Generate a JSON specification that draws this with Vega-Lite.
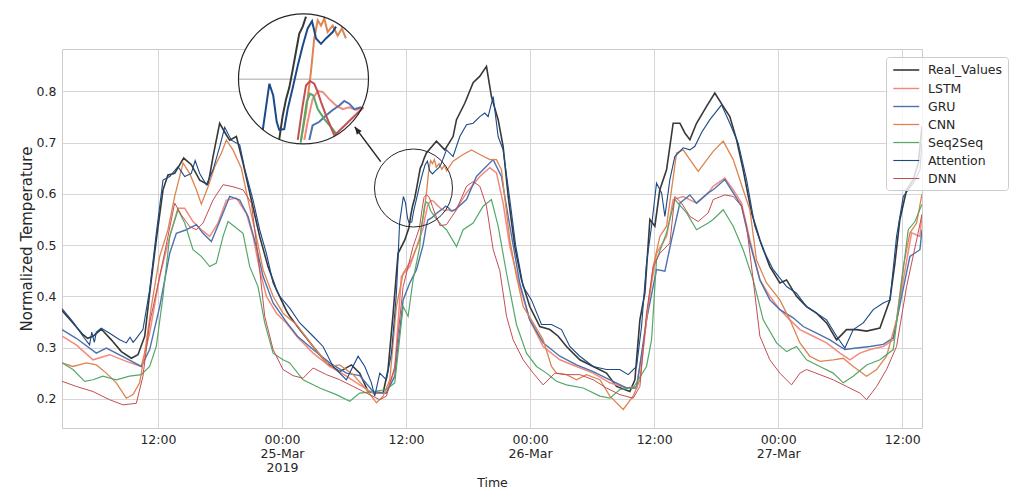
{
  "$schema": "https://vega.github.io/schema/vega-lite/v6.json",
  "width": 860,
  "height": 379,
  "autosize": {"type": "none"},
  "padding": {"left": 62, "top": 49, "right": 94, "bottom": 61},
  "background": "white",
  "config": {
    "font": "DejaVu Sans",
    "view": {"stroke": "#cccccc", "strokeWidth": 1},
    "axis": {"domain": false, "ticks": false, "grid": true, "gridColor": "#d6d6d6", "gridWidth": 1, "labelColor": "#262626", "titleColor": "#262626", "labelFontSize": 12.5, "titleFontWeight": "normal"}
  },
  "datasets": {
    "series": [
      {"t":2.72,"model":"Real_Values","value":0.372},{"t":3.78,"model":"Real_Values","value":0.348},{"t":4.75,"model":"Real_Values","value":0.325},{"t":5.2,"model":"Real_Values","value":0.318},{"t":5.72,"model":"Real_Values","value":0.322},{"t":6.52,"model":"Real_Values","value":0.336},{"t":7.49,"model":"Real_Values","value":0.315},{"t":8.46,"model":"Real_Values","value":0.292},{"t":9.43,"model":"Real_Values","value":0.279},{"t":10.07,"model":"Real_Values","value":0.286},{"t":10.72,"model":"Real_Values","value":0.322},{"t":11.2,"model":"Real_Values","value":0.406},{"t":11.84,"model":"Real_Values","value":0.51},{"t":12.49,"model":"Real_Values","value":0.608},{"t":12.97,"model":"Real_Values","value":0.637},{"t":13.62,"model":"Real_Values","value":0.64},{"t":14.49,"model":"Real_Values","value":0.67},{"t":15.23,"model":"Real_Values","value":0.657},{"t":16.04,"model":"Real_Values","value":0.627},{"t":16.85,"model":"Real_Values","value":0.618},{"t":17.33,"model":"Real_Values","value":0.673},{"t":17.97,"model":"Real_Values","value":0.738},{"t":18.62,"model":"Real_Values","value":0.715},{"t":18.94,"model":"Real_Values","value":0.705},{"t":19.59,"model":"Real_Values","value":0.712},{"t":20.23,"model":"Real_Values","value":0.66},{"t":21.04,"model":"Real_Values","value":0.588},{"t":21.84,"model":"Real_Values","value":0.517},{"t":22.65,"model":"Real_Values","value":0.458},{"t":23.46,"model":"Real_Values","value":0.413},{"t":24.42,"model":"Real_Values","value":0.372},{"t":24.75,"model":"Real_Values","value":0.361},{"t":25.72,"model":"Real_Values","value":0.335},{"t":27.01,"model":"Real_Values","value":0.302},{"t":28.3,"model":"Real_Values","value":0.27},{"t":29.59,"model":"Real_Values","value":0.253},{"t":30.72,"model":"Real_Values","value":0.266},{"t":31.52,"model":"Real_Values","value":0.25},{"t":32.33,"model":"Real_Values","value":0.214},{"t":33.14,"model":"Real_Values","value":0.211},{"t":33.78,"model":"Real_Values","value":0.211},{"t":34.26,"model":"Real_Values","value":0.257},{"t":34.75,"model":"Real_Values","value":0.367},{"t":35.23,"model":"Real_Values","value":0.484},{"t":35.88,"model":"Real_Values","value":0.51},{"t":36.28,"model":"Real_Values","value":0.534},{"t":36.47,"model":"Real_Values","value":0.56},{"t":36.65,"model":"Real_Values","value":0.578},{"t":36.83,"model":"Real_Values","value":0.591},{"t":37.01,"model":"Real_Values","value":0.61},{"t":37.19,"model":"Real_Values","value":0.63},{"t":37.37,"model":"Real_Values","value":0.65},{"t":37.56,"model":"Real_Values","value":0.658},{"t":37.74,"model":"Real_Values","value":0.669},{"t":37.97,"model":"Real_Values","value":0.68},{"t":38.94,"model":"Real_Values","value":0.703},{"t":39.75,"model":"Real_Values","value":0.686},{"t":40.55,"model":"Real_Values","value":0.712},{"t":40.88,"model":"Real_Values","value":0.745},{"t":41.68,"model":"Real_Values","value":0.777},{"t":42.49,"model":"Real_Values","value":0.817},{"t":43.14,"model":"Real_Values","value":0.83},{"t":43.78,"model":"Real_Values","value":0.849},{"t":44.26,"model":"Real_Values","value":0.79},{"t":44.91,"model":"Real_Values","value":0.745},{"t":45.39,"model":"Real_Values","value":0.693},{"t":45.88,"model":"Real_Values","value":0.595},{"t":46.52,"model":"Real_Values","value":0.497},{"t":47.17,"model":"Real_Values","value":0.432},{"t":47.97,"model":"Real_Values","value":0.38},{"t":48.94,"model":"Real_Values","value":0.341},{"t":49.91,"model":"Real_Values","value":0.335},{"t":50.72,"model":"Real_Values","value":0.322},{"t":51.52,"model":"Real_Values","value":0.302},{"t":52.81,"model":"Real_Values","value":0.276},{"t":54.1,"model":"Real_Values","value":0.263},{"t":55.39,"model":"Real_Values","value":0.25},{"t":56.36,"model":"Real_Values","value":0.224},{"t":57.65,"model":"Real_Values","value":0.214},{"t":58.14,"model":"Real_Values","value":0.237},{"t":58.62,"model":"Real_Values","value":0.354},{"t":59.1,"model":"Real_Values","value":0.406},{"t":59.59,"model":"Real_Values","value":0.55},{"t":60.07,"model":"Real_Values","value":0.537},{"t":60.55,"model":"Real_Values","value":0.608},{"t":61.2,"model":"Real_Values","value":0.647},{"t":61.84,"model":"Real_Values","value":0.738},{"t":62.49,"model":"Real_Values","value":0.738},{"t":62.97,"model":"Real_Values","value":0.719},{"t":63.46,"model":"Real_Values","value":0.706},{"t":64.1,"model":"Real_Values","value":0.738},{"t":65.07,"model":"Real_Values","value":0.771},{"t":65.87,"model":"Real_Values","value":0.797},{"t":66.68,"model":"Real_Values","value":0.771},{"t":67.32,"model":"Real_Values","value":0.751},{"t":67.97,"model":"Real_Values","value":0.706},{"t":68.61,"model":"Real_Values","value":0.647},{"t":69.42,"model":"Real_Values","value":0.563},{"t":70.23,"model":"Real_Values","value":0.51},{"t":71.19,"model":"Real_Values","value":0.458},{"t":72.16,"model":"Real_Values","value":0.426},{"t":72.81,"model":"Real_Values","value":0.432},{"t":73.77,"model":"Real_Values","value":0.4},{"t":74.74,"model":"Real_Values","value":0.38},{"t":75.71,"model":"Real_Values","value":0.367},{"t":76.68,"model":"Real_Values","value":0.348},{"t":77.65,"model":"Real_Values","value":0.315},{"t":78.61,"model":"Real_Values","value":0.335},{"t":79.58,"model":"Real_Values","value":0.335},{"t":80.55,"model":"Real_Values","value":0.332},{"t":81.84,"model":"Real_Values","value":0.338},{"t":82.81,"model":"Real_Values","value":0.393},{"t":83.29,"model":"Real_Values","value":0.465},{"t":83.77,"model":"Real_Values","value":0.55},{"t":84.42,"model":"Real_Values","value":0.608},{"t":85.06,"model":"Real_Values","value":0.628},{"t":85.55,"model":"Real_Values","value":0.66},{"t":85.91,"model":"Real_Values","value":0.732},

      {"t":2.72,"model":"LSTM","value":0.322},{"t":4.1,"model":"LSTM","value":0.305},{"t":5.72,"model":"LSTM","value":0.276},{"t":7.33,"model":"LSTM","value":0.286},{"t":8.94,"model":"LSTM","value":0.273},{"t":10.39,"model":"LSTM","value":0.263},{"t":11.2,"model":"LSTM","value":0.328},{"t":12.17,"model":"LSTM","value":0.439},{"t":13.14,"model":"LSTM","value":0.517},{"t":13.94,"model":"LSTM","value":0.572},{"t":14.59,"model":"LSTM","value":0.572},{"t":15.39,"model":"LSTM","value":0.546},{"t":16.2,"model":"LSTM","value":0.53},{"t":17.01,"model":"LSTM","value":0.517},{"t":17.81,"model":"LSTM","value":0.543},{"t":18.62,"model":"LSTM","value":0.588},{"t":19.59,"model":"LSTM","value":0.592},{"t":20.55,"model":"LSTM","value":0.562},{"t":21.2,"model":"LSTM","value":0.517},{"t":21.84,"model":"LSTM","value":0.452},{"t":22.49,"model":"LSTM","value":0.4},{"t":23.46,"model":"LSTM","value":0.367},{"t":24.42,"model":"LSTM","value":0.348},{"t":25.5,"model":"LSTM","value":0.32},{"t":27.01,"model":"LSTM","value":0.289},{"t":28.62,"model":"LSTM","value":0.263},{"t":30.23,"model":"LSTM","value":0.244},{"t":31.52,"model":"LSTM","value":0.227},{"t":32.81,"model":"LSTM","value":0.211},{"t":34.1,"model":"LSTM","value":0.211},{"t":34.91,"model":"LSTM","value":0.257},{"t":35.55,"model":"LSTM","value":0.439},{"t":36.36,"model":"LSTM","value":0.458},{"t":37.33,"model":"LSTM","value":0.515},{"t":37.65,"model":"LSTM","value":0.533},{"t":37.83,"model":"LSTM","value":0.553},{"t":38.1,"model":"LSTM","value":0.578},{"t":38.38,"model":"LSTM","value":0.587},{"t":38.65,"model":"LSTM","value":0.586},{"t":39.01,"model":"LSTM","value":0.578},{"t":39.38,"model":"LSTM","value":0.571},{"t":39.74,"model":"LSTM","value":0.567},{"t":40.1,"model":"LSTM","value":0.569},{"t":40.47,"model":"LSTM","value":0.566},{"t":40.8,"model":"LSTM","value":0.569},{"t":41.85,"model":"LSTM","value":0.602},{"t":43.14,"model":"LSTM","value":0.634},{"t":44.1,"model":"LSTM","value":0.651},{"t":44.75,"model":"LSTM","value":0.641},{"t":45.39,"model":"LSTM","value":0.582},{"t":46.04,"model":"LSTM","value":0.497},{"t":47.01,"model":"LSTM","value":0.419},{"t":47.97,"model":"LSTM","value":0.354},{"t":49.26,"model":"LSTM","value":0.302},{"t":50.88,"model":"LSTM","value":0.276},{"t":52.49,"model":"LSTM","value":0.263},{"t":54.1,"model":"LSTM","value":0.25},{"t":55.72,"model":"LSTM","value":0.231},{"t":57.33,"model":"LSTM","value":0.221},{"t":58.3,"model":"LSTM","value":0.224},{"t":58.94,"model":"LSTM","value":0.302},{"t":59.59,"model":"LSTM","value":0.406},{"t":60.23,"model":"LSTM","value":0.484},{"t":61.2,"model":"LSTM","value":0.517},{"t":61.84,"model":"LSTM","value":0.589},{"t":62.81,"model":"LSTM","value":0.595},{"t":64.1,"model":"LSTM","value":0.582},{"t":65.23,"model":"LSTM","value":0.602},{"t":65.71,"model":"LSTM","value":0.615},{"t":66.84,"model":"LSTM","value":0.631},{"t":67.65,"model":"LSTM","value":0.608},{"t":68.45,"model":"LSTM","value":0.582},{"t":69.26,"model":"LSTM","value":0.51},{"t":70.23,"model":"LSTM","value":0.432},{"t":71.19,"model":"LSTM","value":0.4},{"t":72.16,"model":"LSTM","value":0.374},{"t":73.13,"model":"LSTM","value":0.354},{"t":74.1,"model":"LSTM","value":0.335},{"t":75.39,"model":"LSTM","value":0.322},{"t":76.68,"model":"LSTM","value":0.309},{"t":77.97,"model":"LSTM","value":0.289},{"t":78.94,"model":"LSTM","value":0.276},{"t":79.9,"model":"LSTM","value":0.289},{"t":80.87,"model":"LSTM","value":0.296},{"t":82.16,"model":"LSTM","value":0.302},{"t":83.13,"model":"LSTM","value":0.315},{"t":84.1,"model":"LSTM","value":0.432},{"t":84.9,"model":"LSTM","value":0.524},{"t":85.71,"model":"LSTM","value":0.517},{"t":85.91,"model":"LSTM","value":0.56},

      {"t":2.72,"model":"GRU","value":0.335},{"t":4.1,"model":"GRU","value":0.318},{"t":6.04,"model":"GRU","value":0.289},{"t":7.01,"model":"GRU","value":0.299},{"t":8.94,"model":"GRU","value":0.279},{"t":10.39,"model":"GRU","value":0.263},{"t":11.2,"model":"GRU","value":0.296},{"t":12.17,"model":"GRU","value":0.38},{"t":13.14,"model":"GRU","value":0.484},{"t":13.78,"model":"GRU","value":0.523},{"t":14.75,"model":"GRU","value":0.53},{"t":15.72,"model":"GRU","value":0.54},{"t":16.36,"model":"GRU","value":0.523},{"t":17.17,"model":"GRU","value":0.507},{"t":17.97,"model":"GRU","value":0.546},{"t":18.94,"model":"GRU","value":0.595},{"t":19.91,"model":"GRU","value":0.588},{"t":20.72,"model":"GRU","value":0.556},{"t":21.52,"model":"GRU","value":0.497},{"t":22.17,"model":"GRU","value":0.439},{"t":23.14,"model":"GRU","value":0.387},{"t":24.42,"model":"GRU","value":0.35},{"t":25.5,"model":"GRU","value":0.322},{"t":27.01,"model":"GRU","value":0.296},{"t":28.62,"model":"GRU","value":0.27},{"t":30.23,"model":"GRU","value":0.25},{"t":31.52,"model":"GRU","value":0.245},{"t":32.81,"model":"GRU","value":0.214},{"t":34.1,"model":"GRU","value":0.211},{"t":34.91,"model":"GRU","value":0.244},{"t":35.72,"model":"GRU","value":0.393},{"t":36.36,"model":"GRU","value":0.426},{"t":37.01,"model":"GRU","value":0.452},{"t":37.65,"model":"GRU","value":0.5},{"t":37.92,"model":"GRU","value":0.533},{"t":38.1,"model":"GRU","value":0.549},{"t":38.47,"model":"GRU","value":0.553},{"t":38.83,"model":"GRU","value":0.56},{"t":39.2,"model":"GRU","value":0.566},{"t":39.56,"model":"GRU","value":0.571},{"t":39.83,"model":"GRU","value":0.576},{"t":40.1,"model":"GRU","value":0.573},{"t":40.38,"model":"GRU","value":0.567},{"t":40.74,"model":"GRU","value":0.569},{"t":41.85,"model":"GRU","value":0.589},{"t":42.81,"model":"GRU","value":0.634},{"t":43.78,"model":"GRU","value":0.654},{"t":44.43,"model":"GRU","value":0.667},{"t":45.23,"model":"GRU","value":0.634},{"t":46.04,"model":"GRU","value":0.537},{"t":47.01,"model":"GRU","value":0.425},{"t":47.97,"model":"GRU","value":0.354},{"t":49.26,"model":"GRU","value":0.309},{"t":50.88,"model":"GRU","value":0.283},{"t":52.49,"model":"GRU","value":0.266},{"t":54.1,"model":"GRU","value":0.253},{"t":55.72,"model":"GRU","value":0.237},{"t":57.33,"model":"GRU","value":0.221},{"t":58.3,"model":"GRU","value":0.221},{"t":59.26,"model":"GRU","value":0.354},{"t":60.23,"model":"GRU","value":0.452},{"t":61.04,"model":"GRU","value":0.449},{"t":61.68,"model":"GRU","value":0.51},{"t":62.49,"model":"GRU","value":0.582},{"t":63.46,"model":"GRU","value":0.598},{"t":64.1,"model":"GRU","value":0.582},{"t":65.23,"model":"GRU","value":0.602},{"t":65.71,"model":"GRU","value":0.608},{"t":66.84,"model":"GRU","value":0.628},{"t":67.65,"model":"GRU","value":0.602},{"t":68.45,"model":"GRU","value":0.576},{"t":69.26,"model":"GRU","value":0.504},{"t":70.23,"model":"GRU","value":0.432},{"t":71.19,"model":"GRU","value":0.393},{"t":72.16,"model":"GRU","value":0.374},{"t":73.45,"model":"GRU","value":0.358},{"t":74.42,"model":"GRU","value":0.341},{"t":75.71,"model":"GRU","value":0.328},{"t":77.0,"model":"GRU","value":0.315},{"t":78.45,"model":"GRU","value":0.296},{"t":79.58,"model":"GRU","value":0.299},{"t":80.87,"model":"GRU","value":0.302},{"t":82.16,"model":"GRU","value":0.306},{"t":83.13,"model":"GRU","value":0.319},{"t":83.94,"model":"GRU","value":0.4},{"t":84.74,"model":"GRU","value":0.478},{"t":85.71,"model":"GRU","value":0.491},{"t":85.91,"model":"GRU","value":0.53},

      {"t":2.72,"model":"CNN","value":0.27},{"t":3.78,"model":"CNN","value":0.263},{"t":5.07,"model":"CNN","value":0.27},{"t":6.04,"model":"CNN","value":0.266},{"t":7.01,"model":"CNN","value":0.25},{"t":7.97,"model":"CNN","value":0.231},{"t":8.94,"model":"CNN","value":0.201},{"t":9.59,"model":"CNN","value":0.208},{"t":10.23,"model":"CNN","value":0.231},{"t":10.72,"model":"CNN","value":0.289},{"t":11.36,"model":"CNN","value":0.38},{"t":12.17,"model":"CNN","value":0.478},{"t":12.97,"model":"CNN","value":0.53},{"t":13.62,"model":"CNN","value":0.595},{"t":14.43,"model":"CNN","value":0.66},{"t":15.07,"model":"CNN","value":0.64},{"t":15.72,"model":"CNN","value":0.608},{"t":16.2,"model":"CNN","value":0.58},{"t":16.85,"model":"CNN","value":0.614},{"t":17.49,"model":"CNN","value":0.653},{"t":18.14,"model":"CNN","value":0.68},{"t":18.62,"model":"CNN","value":0.705},{"t":19.26,"model":"CNN","value":0.686},{"t":20.07,"model":"CNN","value":0.65},{"t":20.72,"model":"CNN","value":0.588},{"t":21.52,"model":"CNN","value":0.517},{"t":22.17,"model":"CNN","value":0.452},{"t":23.14,"model":"CNN","value":0.4},{"t":24.1,"model":"CNN","value":0.367},{"t":25.39,"model":"CNN","value":0.345},{"t":27.01,"model":"CNN","value":0.302},{"t":28.62,"model":"CNN","value":0.263},{"t":29.59,"model":"CNN","value":0.266},{"t":30.88,"model":"CNN","value":0.247},{"t":32.17,"model":"CNN","value":0.218},{"t":33.14,"model":"CNN","value":0.192},{"t":33.78,"model":"CNN","value":0.205},{"t":34.43,"model":"CNN","value":0.237},{"t":35.07,"model":"CNN","value":0.38},{"t":35.72,"model":"CNN","value":0.445},{"t":36.52,"model":"CNN","value":0.471},{"t":37.33,"model":"CNN","value":0.51},{"t":37.47,"model":"CNN","value":0.533},{"t":37.74,"model":"CNN","value":0.564},{"t":38.01,"model":"CNN","value":0.608},{"t":38.19,"model":"CNN","value":0.645},{"t":38.38,"model":"CNN","value":0.665},{"t":38.56,"model":"CNN","value":0.659},{"t":38.74,"model":"CNN","value":0.667},{"t":38.92,"model":"CNN","value":0.652},{"t":39.2,"model":"CNN","value":0.659},{"t":39.47,"model":"CNN","value":0.648},{"t":39.7,"model":"CNN","value":0.656},{"t":39.92,"model":"CNN","value":0.645},{"t":40.55,"model":"CNN","value":0.664},{"t":41.52,"model":"CNN","value":0.677},{"t":42.33,"model":"CNN","value":0.686},{"t":43.14,"model":"CNN","value":0.677},{"t":44.1,"model":"CNN","value":0.667},{"t":44.75,"model":"CNN","value":0.667},{"t":45.23,"model":"CNN","value":0.647},{"t":46.04,"model":"CNN","value":0.51},{"t":46.68,"model":"CNN","value":0.439},{"t":47.33,"model":"CNN","value":0.38},{"t":48.3,"model":"CNN","value":0.348},{"t":49.26,"model":"CNN","value":0.315},{"t":50.07,"model":"CNN","value":0.263},{"t":50.55,"model":"CNN","value":0.25},{"t":51.52,"model":"CNN","value":0.247},{"t":52.49,"model":"CNN","value":0.237},{"t":53.46,"model":"CNN","value":0.247},{"t":54.75,"model":"CNN","value":0.237},{"t":55.72,"model":"CNN","value":0.205},{"t":57.01,"model":"CNN","value":0.179},{"t":57.97,"model":"CNN","value":0.205},{"t":58.62,"model":"CNN","value":0.237},{"t":59.26,"model":"CNN","value":0.354},{"t":59.91,"model":"CNN","value":0.458},{"t":60.55,"model":"CNN","value":0.517},{"t":61.2,"model":"CNN","value":0.537},{"t":61.68,"model":"CNN","value":0.608},{"t":62.17,"model":"CNN","value":0.68},{"t":62.81,"model":"CNN","value":0.686},{"t":63.46,"model":"CNN","value":0.667},{"t":64.26,"model":"CNN","value":0.644},{"t":65.71,"model":"CNN","value":0.683},{"t":66.68,"model":"CNN","value":0.703},{"t":67.65,"model":"CNN","value":0.667},{"t":68.61,"model":"CNN","value":0.608},{"t":69.26,"model":"CNN","value":0.569},{"t":69.9,"model":"CNN","value":0.471},{"t":70.87,"model":"CNN","value":0.426},{"t":72.16,"model":"CNN","value":0.393},{"t":73.13,"model":"CNN","value":0.354},{"t":74.1,"model":"CNN","value":0.309},{"t":75.06,"model":"CNN","value":0.283},{"t":76.03,"model":"CNN","value":0.273},{"t":77.32,"model":"CNN","value":0.276},{"t":78.29,"model":"CNN","value":0.279},{"t":79.26,"model":"CNN","value":0.263},{"t":80.55,"model":"CNN","value":0.244},{"t":81.52,"model":"CNN","value":0.257},{"t":82.48,"model":"CNN","value":0.283},{"t":83.45,"model":"CNN","value":0.354},{"t":84.1,"model":"CNN","value":0.458},{"t":84.74,"model":"CNN","value":0.524},{"t":85.39,"model":"CNN","value":0.543},{"t":85.91,"model":"CNN","value":0.6},

      {"t":2.72,"model":"Seq2Seq","value":0.27},{"t":3.78,"model":"Seq2Seq","value":0.257},{"t":4.91,"model":"Seq2Seq","value":0.234},{"t":5.72,"model":"Seq2Seq","value":0.237},{"t":6.68,"model":"Seq2Seq","value":0.244},{"t":7.97,"model":"Seq2Seq","value":0.237},{"t":9.26,"model":"Seq2Seq","value":0.244},{"t":10.39,"model":"Seq2Seq","value":0.247},{"t":11.2,"model":"Seq2Seq","value":0.263},{"t":11.84,"model":"Seq2Seq","value":0.302},{"t":12.49,"model":"Seq2Seq","value":0.4},{"t":13.14,"model":"Seq2Seq","value":0.517},{"t":13.94,"model":"Seq2Seq","value":0.569},{"t":14.59,"model":"Seq2Seq","value":0.543},{"t":15.39,"model":"Seq2Seq","value":0.491},{"t":16.2,"model":"Seq2Seq","value":0.478},{"t":17.01,"model":"Seq2Seq","value":0.458},{"t":17.65,"model":"Seq2Seq","value":0.465},{"t":18.3,"model":"Seq2Seq","value":0.517},{"t":18.78,"model":"Seq2Seq","value":0.546},{"t":19.43,"model":"Seq2Seq","value":0.536},{"t":20.23,"model":"Seq2Seq","value":0.523},{"t":20.88,"model":"Seq2Seq","value":0.458},{"t":21.68,"model":"Seq2Seq","value":0.419},{"t":22.33,"model":"Seq2Seq","value":0.348},{"t":23.14,"model":"Seq2Seq","value":0.289},{"t":24.1,"model":"Seq2Seq","value":0.276},{"t":24.75,"model":"Seq2Seq","value":0.27},{"t":26.04,"model":"Seq2Seq","value":0.237},{"t":27.65,"model":"Seq2Seq","value":0.221},{"t":29.26,"model":"Seq2Seq","value":0.208},{"t":30.55,"model":"Seq2Seq","value":0.195},{"t":31.52,"model":"Seq2Seq","value":0.211},{"t":32.81,"model":"Seq2Seq","value":0.214},{"t":34.1,"model":"Seq2Seq","value":0.218},{"t":34.91,"model":"Seq2Seq","value":0.231},{"t":35.72,"model":"Seq2Seq","value":0.38},{"t":36.2,"model":"Seq2Seq","value":0.361},{"t":36.68,"model":"Seq2Seq","value":0.432},{"t":37.33,"model":"Seq2Seq","value":0.497},{"t":37.45,"model":"Seq2Seq","value":0.53},{"t":37.56,"model":"Seq2Seq","value":0.545},{"t":37.78,"model":"Seq2Seq","value":0.575},{"t":37.96,"model":"Seq2Seq","value":0.584},{"t":38.14,"model":"Seq2Seq","value":0.582},{"t":38.38,"model":"Seq2Seq","value":0.567},{"t":38.74,"model":"Seq2Seq","value":0.556},{"t":39.2,"model":"Seq2Seq","value":0.545},{"t":39.38,"model":"Seq2Seq","value":0.54},{"t":39.91,"model":"Seq2Seq","value":0.53},{"t":40.88,"model":"Seq2Seq","value":0.497},{"t":41.52,"model":"Seq2Seq","value":0.53},{"t":42.49,"model":"Seq2Seq","value":0.543},{"t":43.46,"model":"Seq2Seq","value":0.576},{"t":44.26,"model":"Seq2Seq","value":0.589},{"t":44.91,"model":"Seq2Seq","value":0.537},{"t":45.72,"model":"Seq2Seq","value":0.445},{"t":46.68,"model":"Seq2Seq","value":0.345},{"t":47.65,"model":"Seq2Seq","value":0.289},{"t":48.62,"model":"Seq2Seq","value":0.263},{"t":49.59,"model":"Seq2Seq","value":0.25},{"t":50.55,"model":"Seq2Seq","value":0.234},{"t":51.52,"model":"Seq2Seq","value":0.227},{"t":53.14,"model":"Seq2Seq","value":0.221},{"t":54.75,"model":"Seq2Seq","value":0.205},{"t":55.72,"model":"Seq2Seq","value":0.201},{"t":56.68,"model":"Seq2Seq","value":0.218},{"t":57.97,"model":"Seq2Seq","value":0.221},{"t":59.26,"model":"Seq2Seq","value":0.263},{"t":59.75,"model":"Seq2Seq","value":0.315},{"t":60.23,"model":"Seq2Seq","value":0.471},{"t":61.2,"model":"Seq2Seq","value":0.524},{"t":62.0,"model":"Seq2Seq","value":0.589},{"t":63.14,"model":"Seq2Seq","value":0.563},{"t":64.1,"model":"Seq2Seq","value":0.53},{"t":65.23,"model":"Seq2Seq","value":0.543},{"t":65.71,"model":"Seq2Seq","value":0.55},{"t":66.68,"model":"Seq2Seq","value":0.569},{"t":67.65,"model":"Seq2Seq","value":0.537},{"t":68.61,"model":"Seq2Seq","value":0.491},{"t":69.58,"model":"Seq2Seq","value":0.432},{"t":70.55,"model":"Seq2Seq","value":0.354},{"t":71.84,"model":"Seq2Seq","value":0.309},{"t":72.81,"model":"Seq2Seq","value":0.292},{"t":73.77,"model":"Seq2Seq","value":0.302},{"t":74.74,"model":"Seq2Seq","value":0.276},{"t":76.03,"model":"Seq2Seq","value":0.263},{"t":77.32,"model":"Seq2Seq","value":0.25},{"t":78.29,"model":"Seq2Seq","value":0.231},{"t":79.26,"model":"Seq2Seq","value":0.244},{"t":80.55,"model":"Seq2Seq","value":0.266},{"t":81.84,"model":"Seq2Seq","value":0.276},{"t":83.13,"model":"Seq2Seq","value":0.296},{"t":83.77,"model":"Seq2Seq","value":0.4},{"t":84.58,"model":"Seq2Seq","value":0.53},{"t":85.23,"model":"Seq2Seq","value":0.546},{"t":85.91,"model":"Seq2Seq","value":0.58},

      {"t":2.72,"model":"Attention","value":0.376},{"t":3.78,"model":"Attention","value":0.35},{"t":4.75,"model":"Attention","value":0.322},{"t":5.39,"model":"Attention","value":0.305},{"t":5.6,"model":"Attention","value":0.33},{"t":5.85,"model":"Attention","value":0.31},{"t":6.04,"model":"Attention","value":0.33},{"t":6.52,"model":"Attention","value":0.338},{"t":7.33,"model":"Attention","value":0.328},{"t":8.3,"model":"Attention","value":0.315},{"t":8.94,"model":"Attention","value":0.309},{"t":9.3,"model":"Attention","value":0.32},{"t":9.6,"model":"Attention","value":0.31},{"t":9.91,"model":"Attention","value":0.318},{"t":10.55,"model":"Attention","value":0.335},{"t":11.2,"model":"Attention","value":0.413},{"t":11.84,"model":"Attention","value":0.523},{"t":12.49,"model":"Attention","value":0.627},{"t":13.14,"model":"Attention","value":0.634},{"t":13.94,"model":"Attention","value":0.653},{"t":14.59,"model":"Attention","value":0.634},{"t":15.23,"model":"Attention","value":0.64},{"t":15.6,"model":"Attention","value":0.665},{"t":16.04,"model":"Attention","value":0.64},{"t":16.68,"model":"Attention","value":0.618},{"t":17.33,"model":"Attention","value":0.647},{"t":17.97,"model":"Attention","value":0.692},{"t":18.46,"model":"Attention","value":0.73},{"t":19.1,"model":"Attention","value":0.705},{"t":19.91,"model":"Attention","value":0.696},{"t":20.39,"model":"Attention","value":0.65},{"t":21.2,"model":"Attention","value":0.588},{"t":21.84,"model":"Attention","value":0.53},{"t":22.49,"model":"Attention","value":0.484},{"t":23.14,"model":"Attention","value":0.426},{"t":23.78,"model":"Attention","value":0.4},{"t":24.75,"model":"Attention","value":0.377},{"t":25.72,"model":"Attention","value":0.348},{"t":27.01,"model":"Attention","value":0.322},{"t":27.97,"model":"Attention","value":0.302},{"t":28.94,"model":"Attention","value":0.263},{"t":30.23,"model":"Attention","value":0.237},{"t":31.36,"model":"Attention","value":0.283},{"t":32.01,"model":"Attention","value":0.263},{"t":32.65,"model":"Attention","value":0.231},{"t":32.97,"model":"Attention","value":0.205},{"t":33.46,"model":"Attention","value":0.25},{"t":34.1,"model":"Attention","value":0.237},{"t":34.59,"model":"Attention","value":0.289},{"t":35.07,"model":"Attention","value":0.406},{"t":35.38,"model":"Attention","value":0.544},{"t":35.74,"model":"Attention","value":0.595},{"t":35.95,"model":"Attention","value":0.582},{"t":36.14,"model":"Attention","value":0.553},{"t":36.28,"model":"Attention","value":0.544},{"t":36.55,"model":"Attention","value":0.545},{"t":36.74,"model":"Attention","value":0.567},{"t":37.01,"model":"Attention","value":0.59},{"t":37.29,"model":"Attention","value":0.615},{"t":37.56,"model":"Attention","value":0.637},{"t":37.83,"model":"Attention","value":0.656},{"t":38.07,"model":"Attention","value":0.664},{"t":38.29,"model":"Attention","value":0.645},{"t":38.56,"model":"Attention","value":0.639},{"t":38.83,"model":"Attention","value":0.645},{"t":39.2,"model":"Attention","value":0.652},{"t":39.38,"model":"Attention","value":0.658},{"t":39.91,"model":"Attention","value":0.686},{"t":40.55,"model":"Attention","value":0.673},{"t":41.2,"model":"Attention","value":0.712},{"t":41.85,"model":"Attention","value":0.735},{"t":42.49,"model":"Attention","value":0.738},{"t":43.14,"model":"Attention","value":0.751},{"t":43.62,"model":"Attention","value":0.758},{"t":43.94,"model":"Attention","value":0.751},{"t":44.43,"model":"Attention","value":0.79},{"t":44.91,"model":"Attention","value":0.712},{"t":45.39,"model":"Attention","value":0.686},{"t":46.04,"model":"Attention","value":0.589},{"t":46.6,"model":"Attention","value":0.5},{"t":47.33,"model":"Attention","value":0.419},{"t":48.13,"model":"Attention","value":0.393},{"t":49.1,"model":"Attention","value":0.345},{"t":50.07,"model":"Attention","value":0.345},{"t":51.04,"model":"Attention","value":0.335},{"t":51.84,"model":"Attention","value":0.302},{"t":52.81,"model":"Attention","value":0.283},{"t":54.1,"model":"Attention","value":0.263},{"t":55.39,"model":"Attention","value":0.257},{"t":56.68,"model":"Attention","value":0.257},{"t":57.49,"model":"Attention","value":0.247},{"t":58.3,"model":"Attention","value":0.263},{"t":58.78,"model":"Attention","value":0.341},{"t":59.26,"model":"Attention","value":0.465},{"t":59.75,"model":"Attention","value":0.537},{"t":60.23,"model":"Attention","value":0.621},{"t":60.72,"model":"Attention","value":0.602},{"t":61.04,"model":"Attention","value":0.556},{"t":61.52,"model":"Attention","value":0.628},{"t":62.0,"model":"Attention","value":0.673},{"t":62.81,"model":"Attention","value":0.69},{"t":63.46,"model":"Attention","value":0.686},{"t":63.94,"model":"Attention","value":0.693},{"t":64.59,"model":"Attention","value":0.72},{"t":65.39,"model":"Attention","value":0.745},{"t":66.52,"model":"Attention","value":0.774},{"t":67.32,"model":"Attention","value":0.738},{"t":68.13,"model":"Attention","value":0.699},{"t":68.94,"model":"Attention","value":0.628},{"t":69.74,"model":"Attention","value":0.537},{"t":70.55,"model":"Attention","value":0.491},{"t":71.52,"model":"Attention","value":0.452},{"t":72.81,"model":"Attention","value":0.419},{"t":73.77,"model":"Attention","value":0.406},{"t":74.74,"model":"Attention","value":0.38},{"t":75.71,"model":"Attention","value":0.367},{"t":76.68,"model":"Attention","value":0.354},{"t":77.65,"model":"Attention","value":0.322},{"t":78.45,"model":"Attention","value":0.299},{"t":79.26,"model":"Attention","value":0.335},{"t":80.23,"model":"Attention","value":0.348},{"t":81.19,"model":"Attention","value":0.374},{"t":82.16,"model":"Attention","value":0.387},{"t":82.81,"model":"Attention","value":0.393},{"t":83.45,"model":"Attention","value":0.517},{"t":84.1,"model":"Attention","value":0.595},{"t":85.06,"model":"Attention","value":0.621},{"t":85.71,"model":"Attention","value":0.647},{"t":85.91,"model":"Attention","value":0.7},

      {"t":2.72,"model":"DNN","value":0.234},{"t":4.1,"model":"DNN","value":0.224},{"t":5.72,"model":"DNN","value":0.214},{"t":7.33,"model":"DNN","value":0.198},{"t":8.62,"model":"DNN","value":0.188},{"t":9.91,"model":"DNN","value":0.191},{"t":10.55,"model":"DNN","value":0.244},{"t":11.2,"model":"DNN","value":0.348},{"t":12.17,"model":"DNN","value":0.439},{"t":12.97,"model":"DNN","value":0.517},{"t":13.62,"model":"DNN","value":0.582},{"t":14.26,"model":"DNN","value":0.559},{"t":15.07,"model":"DNN","value":0.536},{"t":15.72,"model":"DNN","value":0.53},{"t":16.36,"model":"DNN","value":0.543},{"t":17.33,"model":"DNN","value":0.588},{"t":18.3,"model":"DNN","value":0.618},{"t":19.26,"model":"DNN","value":0.614},{"t":20.23,"model":"DNN","value":0.608},{"t":21.04,"model":"DNN","value":0.582},{"t":21.84,"model":"DNN","value":0.452},{"t":22.33,"model":"DNN","value":0.361},{"t":23.14,"model":"DNN","value":0.296},{"t":24.1,"model":"DNN","value":0.257},{"t":25.07,"model":"DNN","value":0.245},{"t":26.04,"model":"DNN","value":0.24},{"t":27.01,"model":"DNN","value":0.26},{"t":28.3,"model":"DNN","value":0.247},{"t":29.59,"model":"DNN","value":0.237},{"t":30.88,"model":"DNN","value":0.224},{"t":32.17,"model":"DNN","value":0.211},{"t":33.46,"model":"DNN","value":0.198},{"t":34.1,"model":"DNN","value":0.205},{"t":34.91,"model":"DNN","value":0.263},{"t":35.72,"model":"DNN","value":0.419},{"t":36.68,"model":"DNN","value":0.497},{"t":37.29,"model":"DNN","value":0.533},{"t":37.56,"model":"DNN","value":0.571},{"t":37.74,"model":"DNN","value":0.593},{"t":37.96,"model":"DNN","value":0.598},{"t":38.19,"model":"DNN","value":0.595},{"t":38.38,"model":"DNN","value":0.586},{"t":38.56,"model":"DNN","value":0.575},{"t":38.83,"model":"DNN","value":0.56},{"t":39.1,"model":"DNN","value":0.547},{"t":39.29,"model":"DNN","value":0.538},{"t":39.91,"model":"DNN","value":0.54},{"t":40.88,"model":"DNN","value":0.569},{"t":41.85,"model":"DNN","value":0.615},{"t":42.49,"model":"DNN","value":0.624},{"t":43.14,"model":"DNN","value":0.615},{"t":43.78,"model":"DNN","value":0.576},{"t":44.43,"model":"DNN","value":0.491},{"t":45.07,"model":"DNN","value":0.45},{"t":45.72,"model":"DNN","value":0.361},{"t":46.36,"model":"DNN","value":0.315},{"t":47.33,"model":"DNN","value":0.276},{"t":48.3,"model":"DNN","value":0.25},{"t":49.26,"model":"DNN","value":0.227},{"t":50.39,"model":"DNN","value":0.25},{"t":51.52,"model":"DNN","value":0.247},{"t":52.81,"model":"DNN","value":0.247},{"t":54.1,"model":"DNN","value":0.237},{"t":55.39,"model":"DNN","value":0.221},{"t":56.68,"model":"DNN","value":0.208},{"t":57.97,"model":"DNN","value":0.201},{"t":58.62,"model":"DNN","value":0.224},{"t":59.26,"model":"DNN","value":0.367},{"t":59.91,"model":"DNN","value":0.458},{"t":60.55,"model":"DNN","value":0.484},{"t":61.52,"model":"DNN","value":0.504},{"t":62.0,"model":"DNN","value":0.595},{"t":62.65,"model":"DNN","value":0.582},{"t":63.46,"model":"DNN","value":0.556},{"t":64.26,"model":"DNN","value":0.546},{"t":65.23,"model":"DNN","value":0.563},{"t":65.71,"model":"DNN","value":0.589},{"t":66.84,"model":"DNN","value":0.598},{"t":67.65,"model":"DNN","value":0.595},{"t":68.45,"model":"DNN","value":0.576},{"t":68.94,"model":"DNN","value":0.537},{"t":69.58,"model":"DNN","value":0.432},{"t":70.23,"model":"DNN","value":0.322},{"t":71.19,"model":"DNN","value":0.276},{"t":72.16,"model":"DNN","value":0.25},{"t":73.29,"model":"DNN","value":0.227},{"t":74.1,"model":"DNN","value":0.25},{"t":74.74,"model":"DNN","value":0.257},{"t":76.03,"model":"DNN","value":0.247},{"t":77.32,"model":"DNN","value":0.237},{"t":78.61,"model":"DNN","value":0.224},{"t":79.9,"model":"DNN","value":0.211},{"t":80.55,"model":"DNN","value":0.198},{"t":81.52,"model":"DNN","value":0.224},{"t":82.48,"model":"DNN","value":0.257},{"t":83.45,"model":"DNN","value":0.302},{"t":84.42,"model":"DNN","value":0.419},{"t":85.39,"model":"DNN","value":0.51},{"t":85.91,"model":"DNN","value":0.56}
    ],
    "zoom_marks": [
      {"role": "inset", "t": 26.08, "value": 0.8246},
      {"role": "source", "t": 36.72, "value": 0.6115}
    ],
    "arrow": [
      {"tail_t": 33.55, "tail_v": 0.663, "head_t": 31.04, "head_v": 0.731}
    ],
    "inset_grid": [
      {"value": 0.6}
    ]
  },
  "layer": [
    {
      "data": {"name": "series"},
      "mark": {"type": "line", "clip": true},
      "encoding": {
        "x": {"field": "t", "type": "quantitative", "title": "Time",
              "scale": {"domain": [2.72, 85.91], "nice": false, "zero": false},
              "axis": {"values": [12, 24, 36, 48, 60, 72, 84], "labelExpr": "datum.value == 24 ? ['00:00', '25-Mar', '2019'] : datum.value == 48 ? ['00:00', '26-Mar'] : datum.value == 72 ? ['00:00', '27-Mar'] : '12:00'", "labelPadding": 5, "labelLineHeight": 14.3, "titleFontSize": 12.5, "titlePadding": 2}},
        "y": {"field": "value", "type": "quantitative", "title": "Normalized Temperature",
              "scale": {"domain": [0.1428, 0.883], "nice": false, "zero": false},
              "axis": {"values": [0.2, 0.3, 0.4, 0.5, 0.6, 0.7, 0.8], "format": ".1f", "labelPadding": 6, "titleFontSize": 15, "titlePadding": 2}},
        "color": {"field": "model", "type": "nominal",
                  "scale": {"domain": ["Real_Values", "LSTM", "GRU", "CNN", "Seq2Seq", "Attention", "DNN"],
                            "range": ["#383838", "#f4897d", "#4c72b0", "#dd8452", "#55a868", "#1b4a88", "#c44e52"]},
                  "legend": {"orient": "none", "legendX": 824, "legendY": 8, "title": null,
                             "symbolType": "M-0.85,0L3,0", "symbolSize": 182, "symbolStrokeWidth": 1.5,
                             "labelFontSize": 12.5, "labelColor": "#262626", "padding": 5, "rowPadding": 4,
                             "labelOffset": 21, "strokeColor": "#cccccc", "fillColor": "rgba(255,255,255,0.8)", "cornerRadius": 3}},
        "strokeWidth": {"field": "model", "type": "nominal",
                        "scale": {"domain": ["Real_Values", "LSTM", "GRU", "CNN", "Seq2Seq", "Attention", "DNN"], "range": [1.6, 1, 1, 1, 1, 1.5, 1]},
                        "legend": null}
      }
    },
    {
      "data": {"name": "zoom_marks"},
      "transform": [{"filter": "datum.role == 'inset'"}],
      "mark": {"type": "point", "shape": "circle", "filled": true, "fill": "white", "opacity": 1, "strokeWidth": 0},
      "encoding": {
        "x": {"field": "t", "type": "quantitative", "scale": {"domain": [2.72, 85.91], "nice": false, "zero": false}, "axis": null},
        "y": {"field": "value", "type": "quantitative", "scale": {"domain": [0.1428, 0.883], "nice": false, "zero": false}, "axis": null},
        "size": {"value": 16900}
      }
    },
    {
      "layer": [
        {
          "data": {"name": "inset_grid"},
          "mark": {"type": "rule", "color": "#c4c4c4", "strokeWidth": 1.5},
          "encoding": {
            "x": {"datum": 34.07, "type": "quantitative", "scale": {"domain": [34.07, 41.17], "range": [176.8, 306.8], "nice": false, "zero": false}, "axis": null},
            "x2": {"datum": 41.17},
            "y": {"field": "value", "type": "quantitative", "scale": {"domain": [0.5283, 0.6717], "range": [95.2, -34.8], "nice": false, "zero": false}, "axis": null}
          }
        },
        {
          "data": {"name": "series"},
          "transform": [{"filter": "pow((datum.t - 37.62) / 3.55, 2) + pow((datum.value - 0.6) / 0.0717, 2) <= 1.04"}],
          "mark": {"type": "line", "strokeWidth": 2},
          "encoding": {
            "x": {"field": "t", "type": "quantitative"},
            "y": {"field": "value", "type": "quantitative"},
            "color": {"field": "model", "type": "nominal"}
          }
        }
      ]
    },
    {
      "layer": [
        {
          "data": {"name": "zoom_marks"},
          "transform": [{"filter": "datum.role == 'inset'"}],
          "mark": {"type": "point", "shape": "circle", "filled": false, "stroke": "#262626", "strokeWidth": 1.2, "opacity": 1},
          "encoding": {
            "x": {"field": "t", "type": "quantitative", "scale": {"domain": [2.72, 85.91], "nice": false, "zero": false}, "axis": null},
            "y": {"field": "value", "type": "quantitative", "scale": {"domain": [0.1428, 0.883], "nice": false, "zero": false}, "axis": null},
            "size": {"value": 16900}
          }
        },
        {
          "data": {"name": "zoom_marks"},
          "transform": [{"filter": "datum.role == 'source'"}],
          "mark": {"type": "point", "shape": "circle", "filled": false, "stroke": "#262626", "strokeWidth": 1, "opacity": 1},
          "encoding": {
            "x": {"field": "t", "type": "quantitative"},
            "y": {"field": "value", "type": "quantitative"},
            "size": {"value": 6084}
          }
        },
        {
          "data": {"name": "arrow"},
          "mark": {"type": "rule", "color": "#262626", "strokeWidth": 1.5},
          "encoding": {
            "x": {"field": "tail_t", "type": "quantitative"},
            "y": {"field": "tail_v", "type": "quantitative"},
            "x2": {"field": "head_t"},
            "y2": {"field": "head_v"}
          }
        },
        {
          "data": {"name": "arrow"},
          "mark": {"type": "point", "shape": "M0,0L0.5,1.25L-0.5,1.25Z", "filled": true, "color": "#262626", "opacity": 1, "angle": 323.4},
          "encoding": {
            "x": {"field": "head_t", "type": "quantitative"},
            "y": {"field": "head_v", "type": "quantitative"},
            "size": {"value": 144}
          }
        }
      ]
    }
  ],
  "resolve": {"scale": {"x": "independent", "y": "independent"}}
}
